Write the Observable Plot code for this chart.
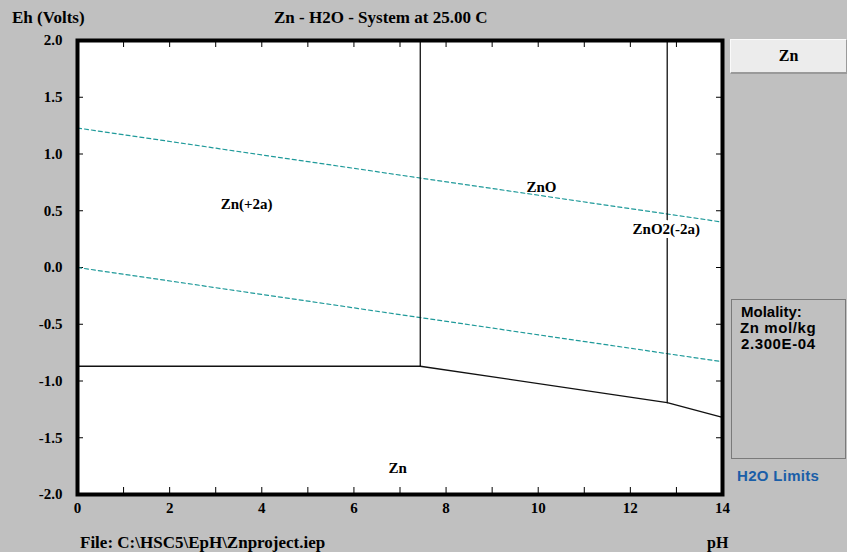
<!DOCTYPE html>
<html>
<head>
<meta charset="utf-8">
<script src="https://cdn.jsdelivr.net/npm/d3@7"></script>
<script src="https://cdn.jsdelivr.net/npm/@observablehq/plot@0.6"></script>
<style>
  html, body { margin: 0; padding: 0; background: #c0c0c0; }
  #wrap { position: relative; width: 847px; height: 552px; overflow: hidden; background: #c0c0c0; }
  #wrap svg { position: absolute; left: 0; top: 0; }
  #wrap svg text { font-family: "Liberation Serif", "Times New Roman", serif !important; font-weight: bold !important; }
  .t { position: absolute; white-space: nowrap; transform: translateY(-50%); }
  .serif { font-family: "Liberation Serif", "Times New Roman", serif; font-weight: bold; font-size: 17px; color: #000; }
  .sans { font-family: "Liberation Sans", Arial, sans-serif; font-weight: bold; font-size: 15px; color: #000; }
  #btn { position: absolute; left: 730px; top: 39px; width: 115px; height: 32px; background: #ececec;
         border-top: 1px solid #fafafa; border-left: 1px solid #fafafa; border-bottom: 2px solid #9a9a9a; border-right: 1px solid #9a9a9a;
         display: flex; align-items: center; justify-content: center; }
  #mol { position: absolute; left: 731px; top: 299px; width: 113px; height: 158px; border: 1px solid #7a7a7a; }
</style>
</head>
<body>
<div id="wrap"></div>
<script>
// ---- data ----
const xTicks = [0, 2, 4, 6, 8, 10, 12, 14];
const xMinorTicks = [1, 2, 3, 4, 5, 6, 7, 8, 9, 10, 11, 12, 13];
const yTicks = [2.0, 1.5, 1.0, 0.5, 0.0, -0.5, -1.0, -1.5, -2.0];
const yTickLabels = ["2.0", "1.5", "1.0", "0.5", "0.0", "-0.5", "-1.0", "-1.5", "-2.0"];
const yMinorTicks = [1.5, 1.0, 0.5, 0.0, -0.5, -1.0, -1.5];

// stability field boundaries (pH, Eh)
const znIonZnPH = [0, 7.44];        const znIonZnEh = [-0.87, -0.87];
const znZnoPH = [7.44, 12.8];       const znZnoEh = [-0.87, -1.19];
const znZno2PH = [12.8, 14];        const znZno2Eh = [-1.19, -1.32];
const znIonZnoPH = [7.44, 7.44];    const znIonZnoEh = [2.0, -0.87];
const znoZno2PH = [12.8, 12.8];     const znoZno2Eh = [2.0, -1.19];

// water stability limits
const o2LimitPH = [0, 14];          const o2LimitEh = [1.229, 0.40];
const h2LimitPH = [0, 14];          const h2LimitEh = [0.0, -0.83];

// region labels
const regionNames = ["Zn(+2a)", "ZnO", "ZnO2(-2a)", "Zn"];
const regionPH = [3.67, 10.07, 12.78, 6.95];
const regionEh = [0.56, 0.71, 0.335, -1.77];

// ---- build tables ----
const seg = (name, xs, ys) => xs.map((x, i) => ({name, pH: x, Eh: ys[i]}));
const boundaries = [
  ...seg("a", znIonZnPH, znIonZnEh),
  ...seg("b", znZnoPH, znZnoEh),
  ...seg("c", znZno2PH, znZno2Eh),
  ...seg("d", znIonZnoPH, znIonZnoEh),
  ...seg("e", znoZno2PH, znoZno2Eh)
];
const water = [...seg("o2", o2LimitPH, o2LimitEh), ...seg("h2", h2LimitPH, h2LimitEh)];
const regions = regionNames.map((n, i) => ({name: n, pH: regionPH[i], Eh: regionEh[i]}));

const FONT = "Liberation Serif";
const W = 847, H = 552, ML = 77, MR = 125, MT = 40, MB = 58;
const fw = W - ML - MR, fh = H - MT - MB;

const chart = Plot.plot({
  width: W, height: H,
  marginLeft: ML, marginRight: MR, marginTop: MT, marginBottom: MB,
  style: {background: "transparent", overflow: "visible", fontFamily: "Liberation Serif, serif"},
  x: {domain: [0, 14], axis: null},
  y: {domain: [-2, 2], axis: null},
  marks: [
    Plot.frame({fill: "white", stroke: null}),
    Plot.ruleX(xMinorTicks, {x: d => d, insetBottom: fh - 7, stroke: "#000", strokeWidth: 1}),
    Plot.ruleX(xMinorTicks, {x: d => d, insetTop: fh - 7, stroke: "#000", strokeWidth: 1}),
    Plot.ruleY(yMinorTicks, {y: d => d, insetRight: fw - 6, stroke: "#000", strokeWidth: 1}),
    Plot.ruleY(yMinorTicks, {y: d => d, insetLeft: fw - 6, stroke: "#000", strokeWidth: 1}),
    Plot.line(water, {x: "pH", y: "Eh", z: "name", stroke: "#1f9a9a", strokeWidth: 1.2, strokeDasharray: "4,3"}),
    Plot.line(boundaries, {x: "pH", y: "Eh", z: "name", stroke: "#111", strokeWidth: 1.3}),
    Plot.text(regions, {x: "pH", y: "Eh", text: "name", fontFamily: FONT, fontWeight: "bold", fontSize: 15, fill: "#000",
      stroke: d => d.name === "ZnO2(-2a)" ? "white" : "none", strokeWidth: 8}),
    Plot.frame({stroke: "#000", strokeWidth: 4}),
    Plot.text(xTicks, {x: d => d, frameAnchor: "bottom", dy: 18, text: d => String(d), fontFamily: FONT, fontWeight: "bold", fontSize: 15, fill: "#000"}),
    Plot.text(yTicks, {y: d => d, frameAnchor: "left", dx: -15, textAnchor: "end", text: (d, i) => yTickLabels[i], fontFamily: FONT, fontWeight: "bold", fontSize: 15, fill: "#000"})
  ]
});
const wrap = document.getElementById("wrap");
wrap.appendChild(chart);

function addText(txt, left, cy, cls, extra) {
  const d = document.createElement("div");
  d.className = "t " + cls;
  d.textContent = txt;
  d.style.left = left + "px";
  d.style.top = cy + "px";
  if (extra) Object.assign(d.style, extra);
  wrap.appendChild(d);
  return d;
}
addText("Eh (Volts)", 12, 18, "serif");
addText("Zn - H2O - System at 25.00 C", 274, 18, "serif");
addText("File: C:\\HSC5\\EpH\\Znproject.iep", 80, 543, "serif");
addText("pH", 707, 543, "serif", {fontSize: "16px"});

const btn = document.createElement("div");
btn.id = "btn";
btn.innerHTML = '<span class="serif" style="font-size:16px">Zn</span>';
wrap.appendChild(btn);

const mol = document.createElement("div");
mol.id = "mol";
wrap.appendChild(mol);
addText("Molality:", 741, 311, "sans");
addText("Zn mol/kg", 740, 327, "sans", {letterSpacing: "0.6px"});
addText("2.300E-04", 741, 343, "sans", {letterSpacing: "0.6px"});
addText("H2O Limits", 737, 475, "sans", {color: "#1a5ea8", letterSpacing: "0.3px"});
</script>
</body>
</html>
